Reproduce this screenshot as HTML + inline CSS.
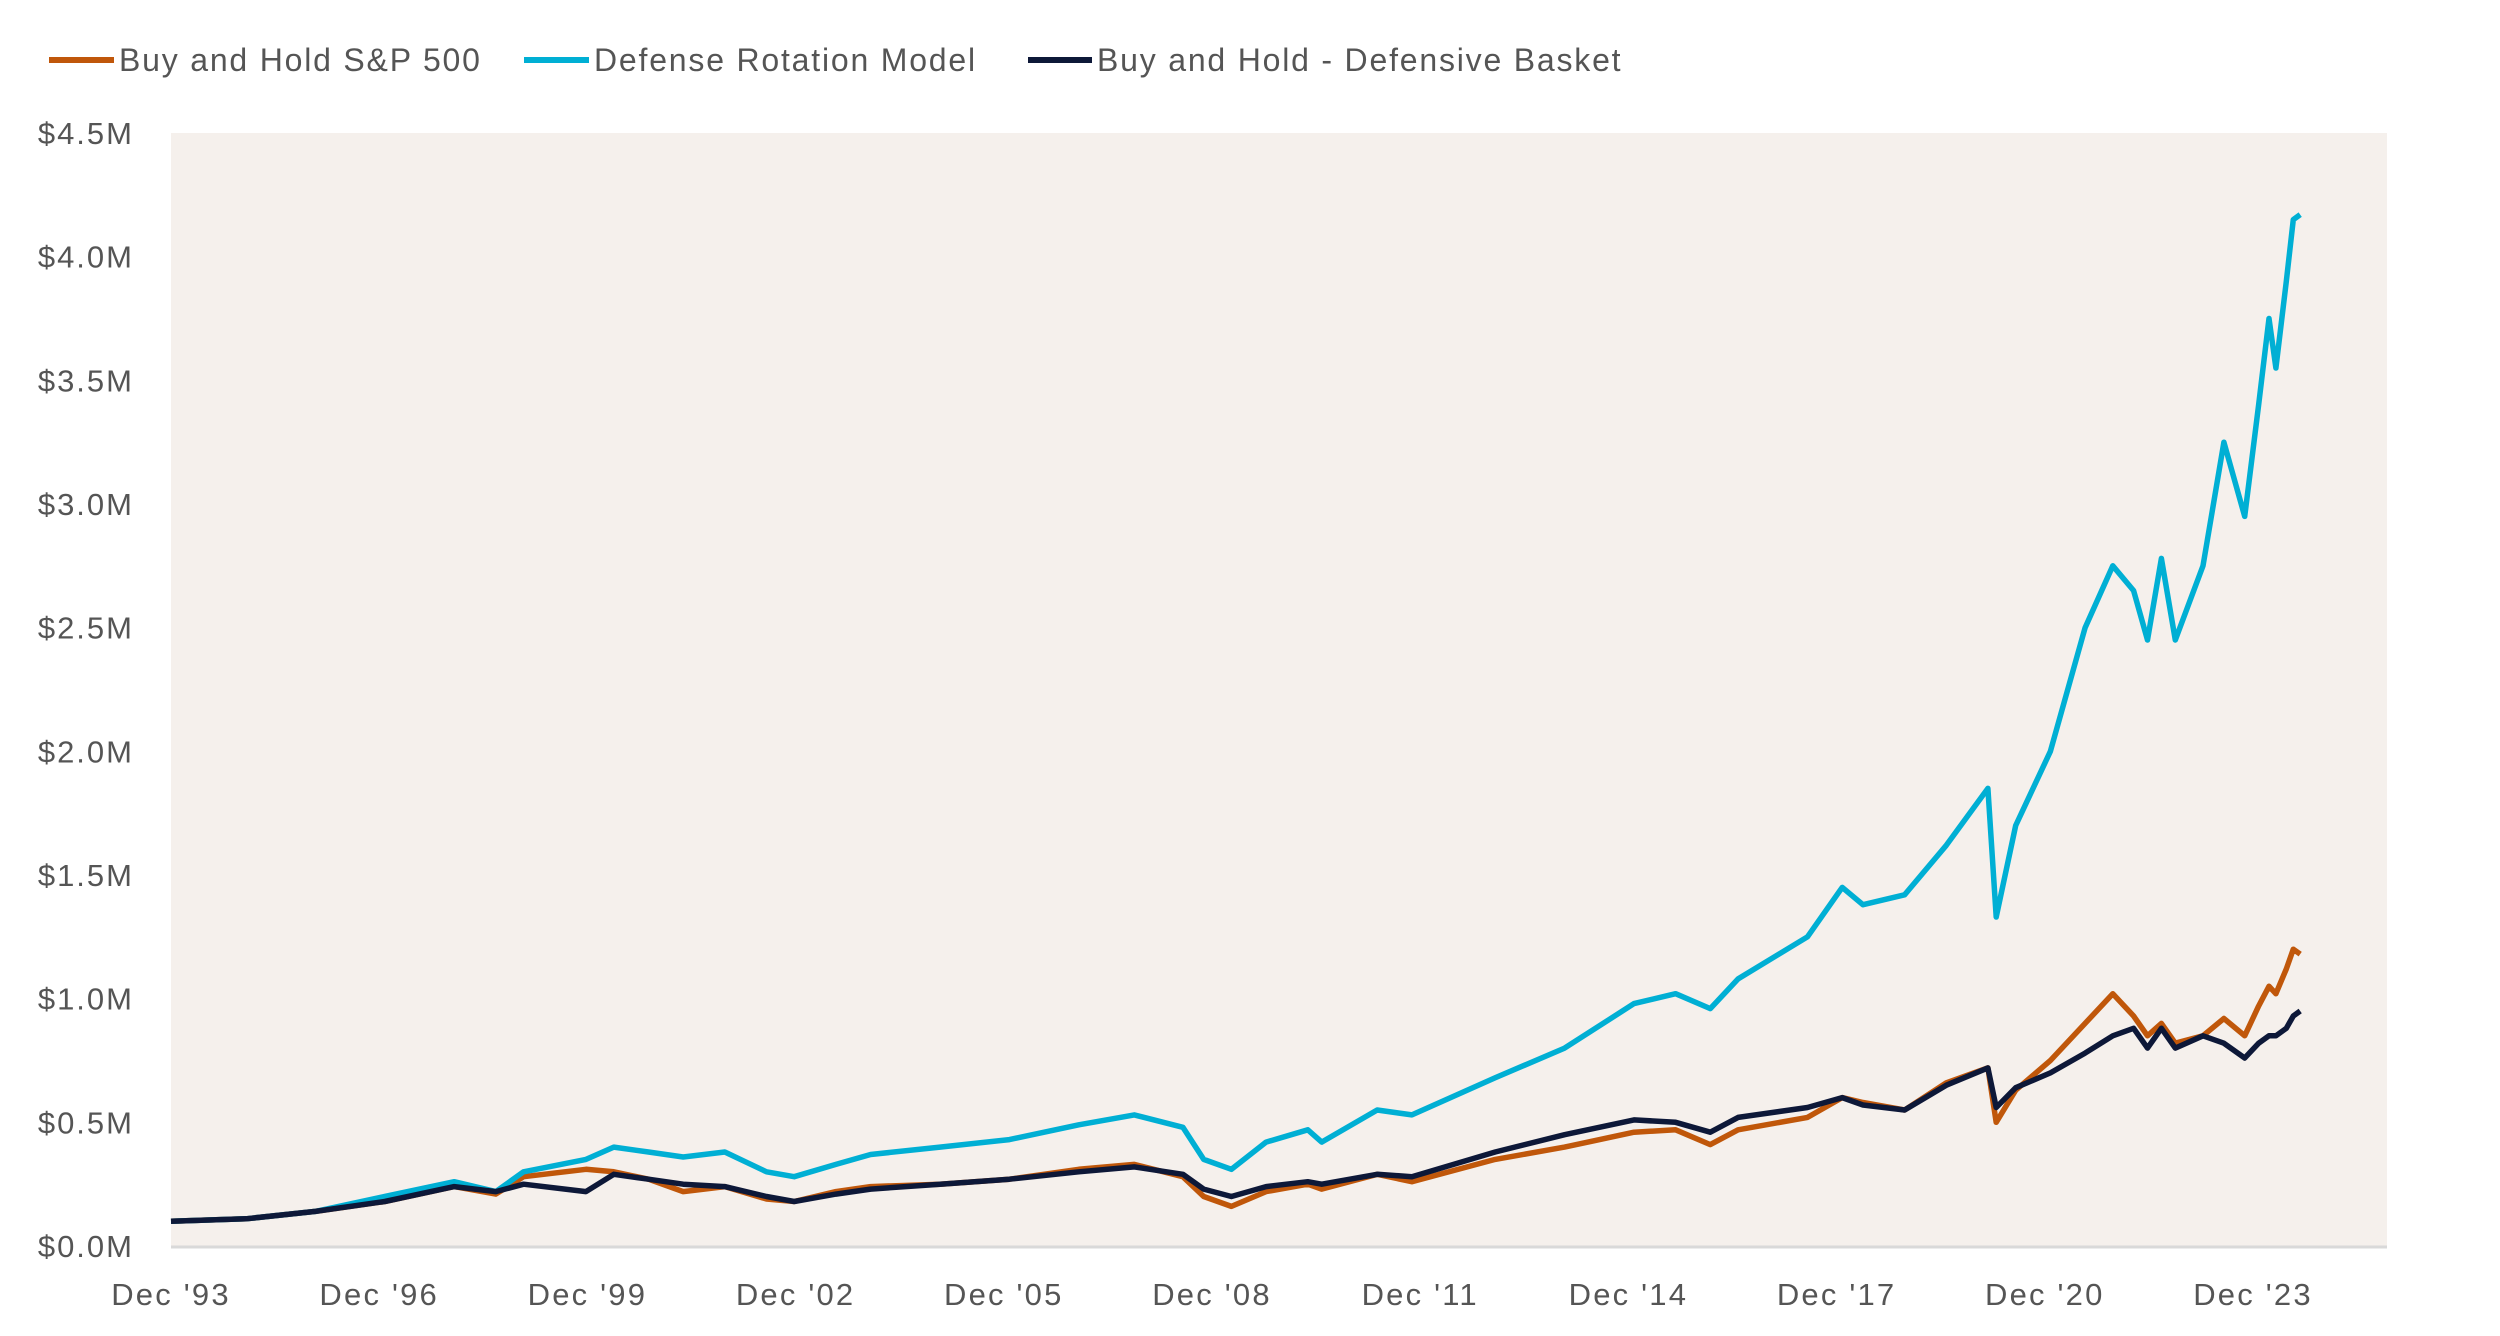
<!DOCTYPE html>
<html><head><meta charset="utf-8"><style>
html,body{margin:0;padding:0;background:#fff;width:2500px;height:1336px;overflow:hidden}
svg text{font-family:"Liberation Sans",sans-serif;fill:#555}
</style></head><body>
<svg id="chart" width="2500" height="1336" xmlns="http://www.w3.org/2000/svg">
<rect x="171" y="133" width="2216" height="1113" fill="#F5F0EC"/>
<line x1="171" y1="1247" x2="2387" y2="1247" stroke="#d9d9d9" stroke-width="3"/>
<g id="yticks"></g><g id="xticks"></g><g id="series"></g>
<g>
<g><line x1="49" y1="60" x2="114" y2="60" stroke="#C0570A" stroke-width="6"/><text x="119" y="71" font-size="32" letter-spacing="1.8">Buy and Hold S&amp;P 500</text></g>
<g><line x1="524" y1="60" x2="589" y2="60" stroke="#00AFD4" stroke-width="6"/><text x="594" y="71" font-size="32" letter-spacing="1.8">Defense Rotation Model</text></g>
<g><line x1="1028" y1="60" x2="1092" y2="60" stroke="#0D1838" stroke-width="6"/><text x="1097" y="71" font-size="32" letter-spacing="1.8">Buy and Hold - Defensive Basket</text></g>
</g>
</svg>
<script>
const dates=[1993.92,1995,1996,1997,1998,1998.6,1999,1999.9,2000.3,2000.8,2001.3,2001.9,2002.5,2002.9,2003.5,2004,2005,2006,2007,2007.8,2008.5,2008.8,2009.2,2009.7,2010.3,2010.5,2011.3,2011.8,2013,2014,2015,2015.6,2016.1,2016.5,2017.5,2018,2018.3,2018.9,2019.5,2020.1,2020.22,2020.5,2021,2021.5,2021.9,2022.2,2022.4,2022.6,2022.8,2023.2,2023.5,2023.8,2024.0,2024.15,2024.25,2024.4,2024.5,2024.6];
const defense=[0.10,0.11,0.14,0.20,0.26,0.22,0.30,0.35,0.40,0.38,0.36,0.38,0.30,0.28,0.33,0.37,0.40,0.43,0.49,0.53,0.48,0.35,0.31,0.42,0.47,0.42,0.55,0.53,0.68,0.80,0.98,1.02,0.96,1.08,1.25,1.45,1.38,1.42,1.62,1.85,1.33,1.70,2.0,2.5,2.75,2.65,2.45,2.78,2.45,2.75,3.25,2.95,3.4,3.75,3.55,3.9,4.15,4.17];
const sp500=[0.10,0.11,0.14,0.18,0.24,0.21,0.28,0.31,0.30,0.27,0.22,0.24,0.19,0.18,0.22,0.24,0.25,0.27,0.31,0.33,0.28,0.20,0.16,0.22,0.25,0.23,0.29,0.26,0.35,0.40,0.46,0.47,0.41,0.47,0.52,0.60,0.58,0.55,0.66,0.72,0.50,0.63,0.75,0.90,1.02,0.93,0.85,0.90,0.82,0.85,0.92,0.85,0.97,1.05,1.02,1.12,1.2,1.18];
const basket=[0.10,0.11,0.14,0.18,0.24,0.22,0.25,0.22,0.29,0.27,0.25,0.24,0.20,0.18,0.21,0.23,0.25,0.27,0.30,0.32,0.29,0.23,0.20,0.24,0.26,0.25,0.29,0.28,0.38,0.45,0.51,0.50,0.46,0.52,0.56,0.60,0.57,0.55,0.65,0.72,0.56,0.64,0.70,0.78,0.85,0.88,0.80,0.88,0.80,0.85,0.82,0.76,0.82,0.85,0.85,0.88,0.93,0.95];
const yTicks=[0,0.5,1,1.5,2,2.5,3,3.5,4,4.5];
const xTickYears=[1993.92,1996.92,1999.92,2002.92,2005.92,2008.92,2011.92,2014.92,2017.92,2020.92,2023.92];
const xTickLabels=["Dec '93","Dec '96","Dec '99","Dec '02","Dec '05","Dec '08","Dec '11","Dec '14","Dec '17","Dec '20","Dec '23"];
const NS='http://www.w3.org/2000/svg';
const X=t=>171+(t-1993.92)*69.4;
const Y=v=>1246-v/4.5*1113;
const yg=document.getElementById('yticks');
yTicks.forEach(v=>{const t=document.createElementNS(NS,'text');


t.setAttribute('x',134);t.setAttribute('y',Y(v)+11);t.setAttribute('text-anchor','end');t.setAttribute('font-size','31');t.setAttribute('letter-spacing','2');
t.textContent='$'+v.toFixed(1)+'M';yg.appendChild(t);});
const xg=document.getElementById('xticks');
xTickYears.forEach((yr,i)=>{const t=document.createElementNS(NS,'text');


t.setAttribute('x',X(yr));t.setAttribute('y',1305);t.setAttribute('text-anchor','middle');t.setAttribute('font-size','31');t.setAttribute('letter-spacing','2.2');
t.textContent=xTickLabels[i];xg.appendChild(t);});
const sg=document.getElementById('series');
function draw(vals,color,name){const p=document.createElementNS(NS,'path');


p.setAttribute('d',vals.map((v,i)=>(i?'L':'M')+X(dates[i]).toFixed(1)+' '+Y(v).toFixed(1)).join(' '));
p.setAttribute('fill','none');p.setAttribute('stroke',color);p.setAttribute('stroke-width','5.5');p.setAttribute('stroke-linejoin','round');
sg.appendChild(p);}
draw(sp500,'#C0570A','sp500-line');
draw(defense,'#00AFD4','defense-rotation-line');
draw(basket,'#0D1838','defensive-basket-line');
</script>
</body></html>
